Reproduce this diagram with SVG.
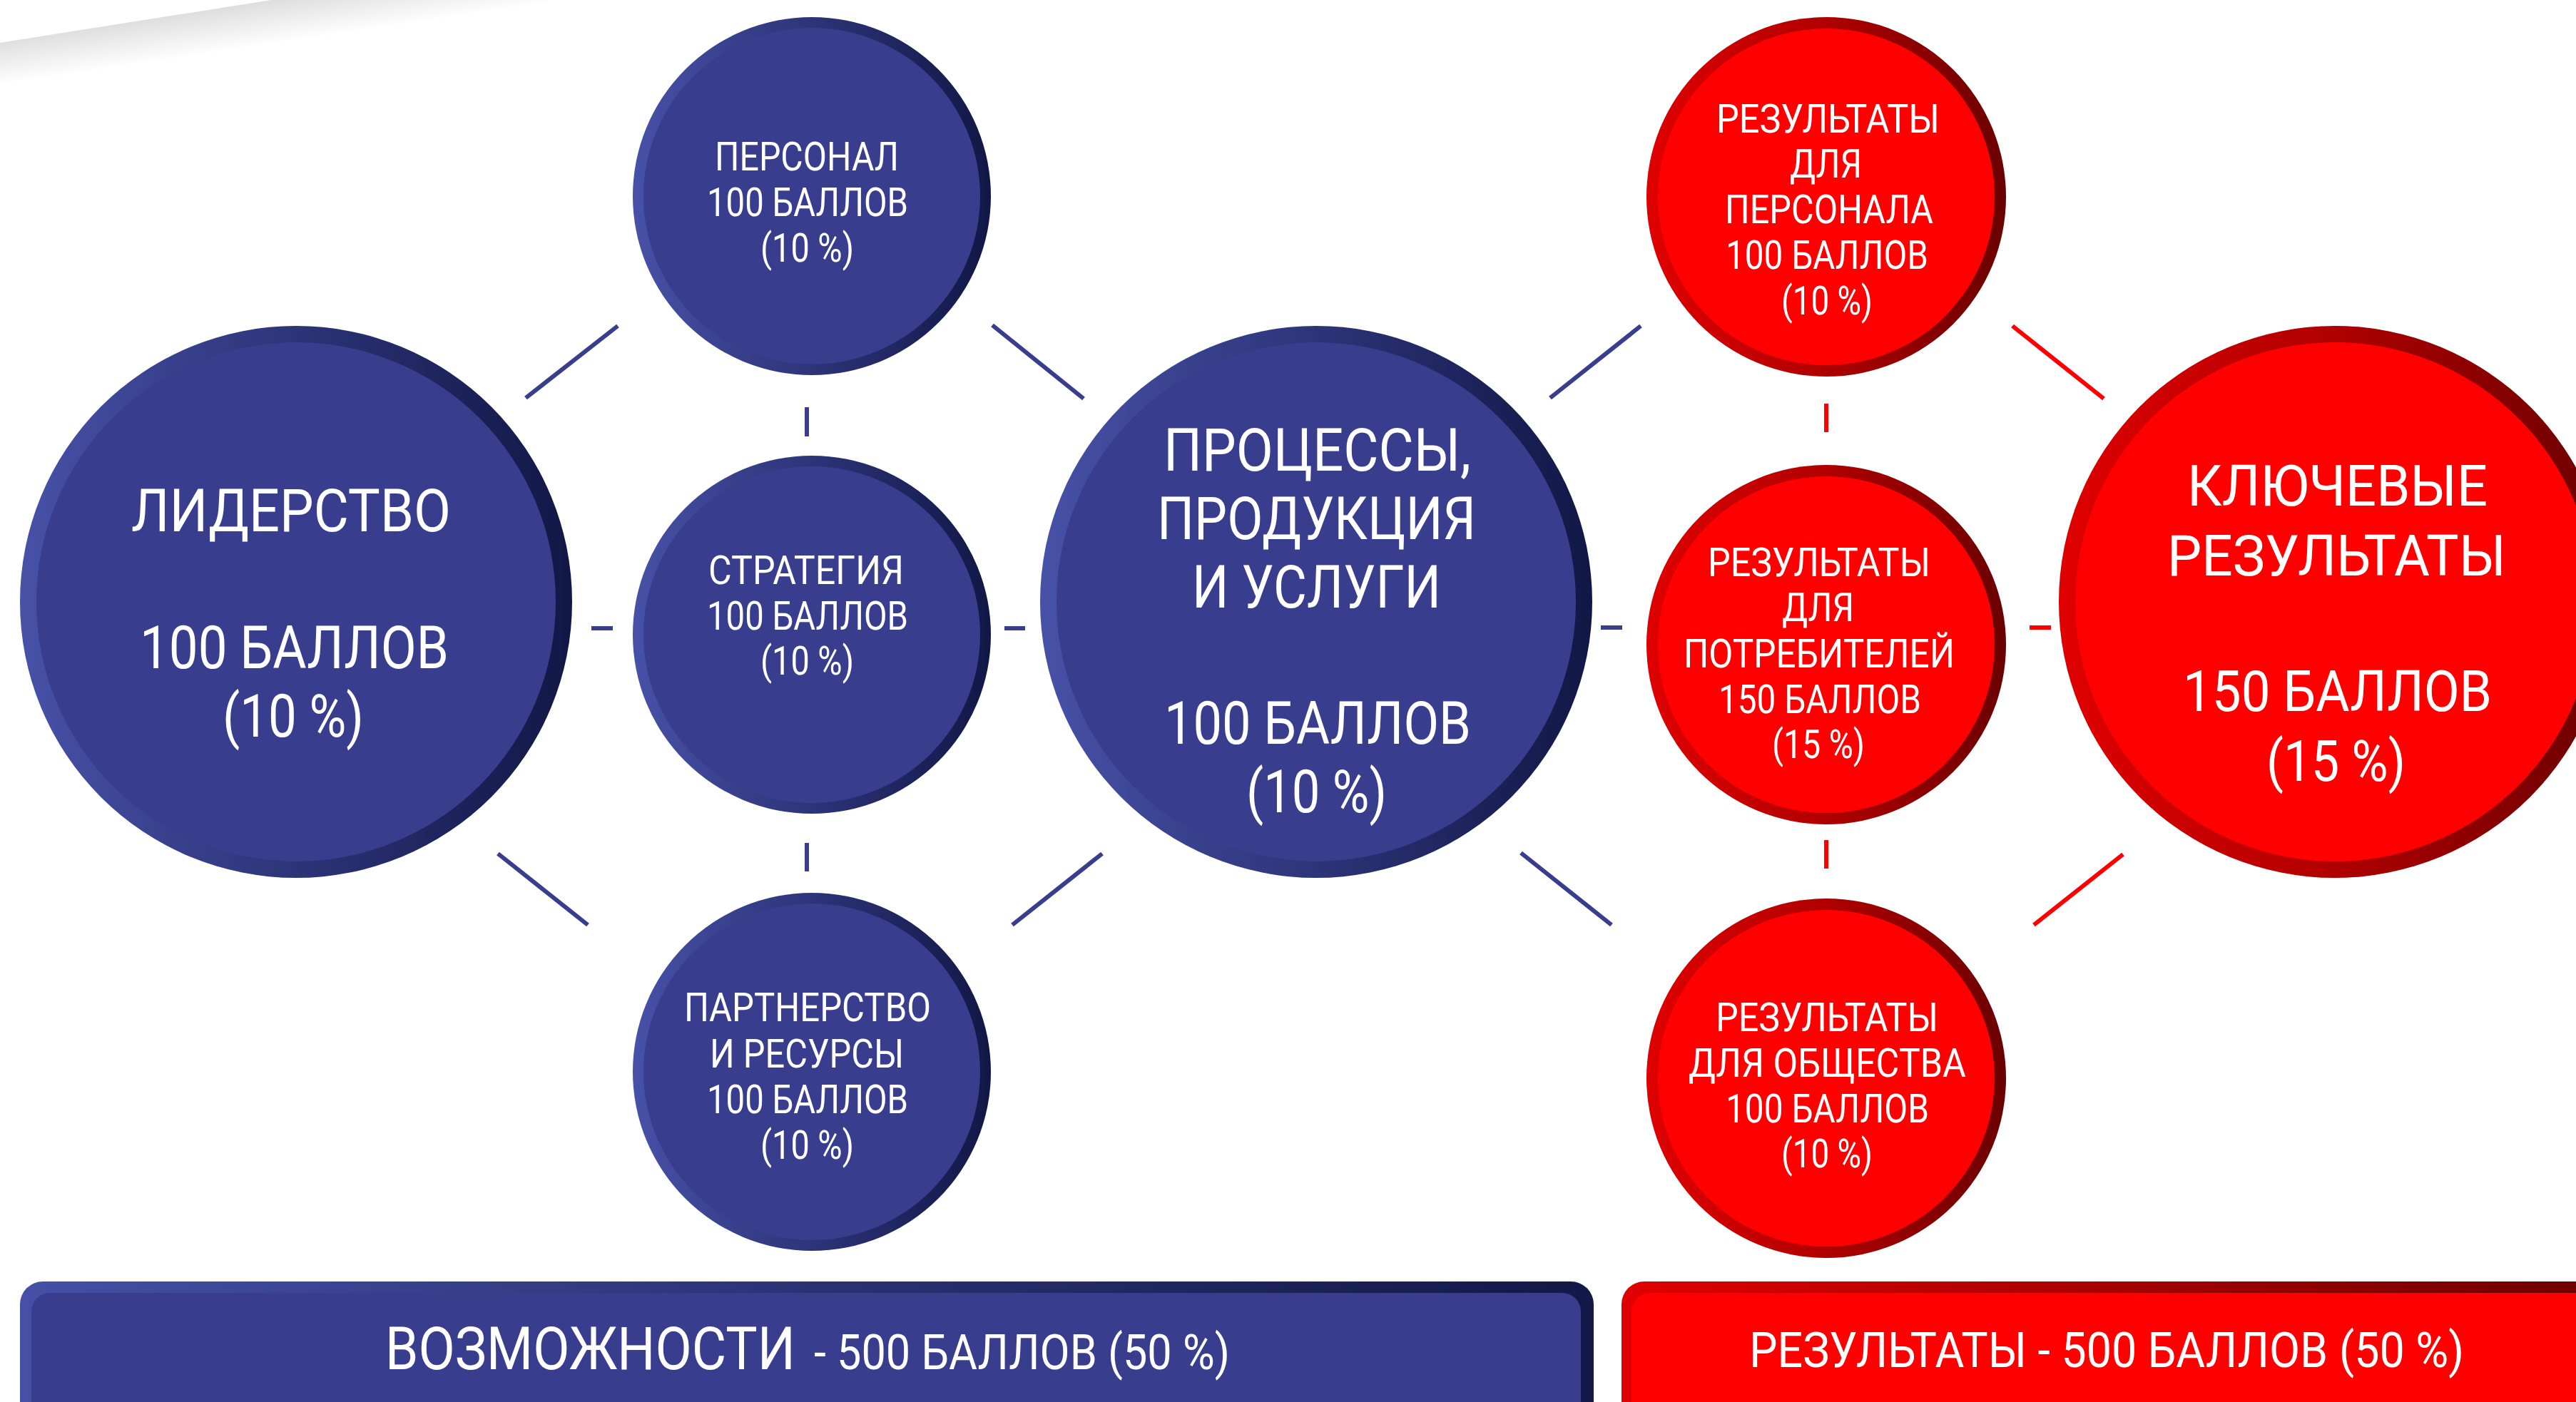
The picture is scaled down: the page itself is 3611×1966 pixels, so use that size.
<svg xmlns="http://www.w3.org/2000/svg" width="3611" height="1966" viewBox="0 0 3611 1966">
<style>
.bring{fill:url(#gBlue)}
.bfill{fill:#393d8d}
.rring{fill:url(#gRed)}
.rfill{fill:#ff0000}
.t{fill:#ffffff;font-family:Roboto,'Liberation Sans',sans-serif;font-weight:400}
.big{font-size:83px}
.key{font-size:80px}
.sm{font-size:56px}
.cb{stroke:#393d8d;stroke-width:6;fill:none}
.cr{stroke:#ff0000;stroke-width:6;fill:none}
</style>
<defs>
<linearGradient id="gBlue" x1="0" y1="0" x2="1" y2="0">
<stop offset="0" stop-color="#4751a7"/>
<stop offset="0.5" stop-color="#2d3478"/>
<stop offset="1" stop-color="#111745"/>
</linearGradient>
<linearGradient id="gRed" x1="0" y1="0" x2="1" y2="0">
<stop offset="0" stop-color="#e00000"/>
<stop offset="0.5" stop-color="#b00000"/>
<stop offset="1" stop-color="#6a0000"/>
</linearGradient>
<linearGradient id="gBlueBar" x1="0" y1="0" x2="1" y2="0">
<stop offset="0" stop-color="#4550a6"/>
<stop offset="0.5" stop-color="#2b3274"/>
<stop offset="1" stop-color="#121847"/>
</linearGradient>
<linearGradient id="gRedBar" gradientUnits="userSpaceOnUse" x1="2273" y1="0" x2="3611" y2="0">
<stop offset="0" stop-color="#e00000"/>
<stop offset="1" stop-color="#700000"/>
</linearGradient>
<linearGradient id="gShade" gradientUnits="userSpaceOnUse" x1="0" y1="58" x2="9" y2="118">
<stop offset="0" stop-color="#dedede"/>
<stop offset="1" stop-color="#ffffff"/>
</linearGradient>
</defs>
<rect x="0" y="0" width="3611" height="1966" fill="#ffffff"/>
<polygon points="0,60 380,0 1300,0 0,260" fill="url(#gShade)"/>

<g id="connectors">
<line class="cb" x1="737" y1="558" x2="866" y2="457"/>
<line class="cb" x1="1391" y1="456" x2="1519" y2="559"/>
<line class="cb" x1="1131" y1="571" x2="1131" y2="612"/>
<line class="cb" x1="829" y1="881" x2="859" y2="881"/>
<line class="cb" x1="1408" y1="881" x2="1437" y2="881"/>
<line class="cb" x1="1131" y1="1182" x2="1131" y2="1222"/>
<line class="cb" x1="698" y1="1197" x2="824" y2="1297"/>
<line class="cb" x1="1419" y1="1297" x2="1545" y2="1197"/>
<line class="cb" x1="2173" y1="558" x2="2300" y2="457"/>
<line class="cb" x1="2244" y1="880" x2="2274" y2="880"/>
<line class="cb" x1="2132" y1="1196" x2="2259" y2="1297"/>
<line class="cr" x1="2821" y1="457" x2="2949" y2="559"/>
<line class="cr" x1="2560" y1="566" x2="2560" y2="606"/>
<line class="cr" x1="2845" y1="880" x2="2875" y2="880"/>
<line class="cr" x1="2560" y1="1178" x2="2560" y2="1218"/>
<line class="cr" x1="2851" y1="1297" x2="2976" y2="1198"/>
</g>

<g id="leadership">
<circle class="bring" cx="415" cy="844" r="387"/>
<circle class="bfill" cx="415" cy="844" r="364"/>
<text class="t big" x="184" y="745" textLength="448" lengthAdjust="spacingAndGlyphs">ЛИДЕРСТВО</text>
<text class="t big" x="196" y="937" textLength="433" lengthAdjust="spacingAndGlyphs">100 БАЛЛОВ</text>
<text class="t big" x="312" y="1033" textLength="198" lengthAdjust="spacingAndGlyphs">(10 %)</text>
</g>

<g id="personnel">
<circle class="bring" cx="1138" cy="275" r="251"/>
<circle class="bfill" cx="1138" cy="275" r="236"/>
<text class="t sm" x="1002" y="239" textLength="258" lengthAdjust="spacingAndGlyphs">ПЕРСОНАЛ</text>
<text class="t sm" x="991" y="303" textLength="282" lengthAdjust="spacingAndGlyphs">100 БАЛЛОВ</text>
<text class="t sm" x="1066" y="367" textLength="131" lengthAdjust="spacingAndGlyphs">(10 %)</text>
</g>

<g id="strategy">
<circle class="bring" cx="1138" cy="890" r="251"/>
<circle class="bfill" cx="1138" cy="890" r="236"/>
<text class="t sm" x="993" y="819" textLength="274" lengthAdjust="spacingAndGlyphs">СТРАТЕГИЯ</text>
<text class="t sm" x="991" y="883" textLength="282" lengthAdjust="spacingAndGlyphs">100 БАЛЛОВ</text>
<text class="t sm" x="1066" y="946" textLength="131" lengthAdjust="spacingAndGlyphs">(10 %)</text>
</g>

<g id="partnership">
<circle class="bring" cx="1138" cy="1503" r="251"/>
<circle class="bfill" cx="1138" cy="1503" r="236"/>
<text class="t sm" x="959" y="1432" textLength="346" lengthAdjust="spacingAndGlyphs">ПАРТНЕРСТВО</text>
<text class="t sm" x="995" y="1497" textLength="272" lengthAdjust="spacingAndGlyphs">И РЕСУРСЫ</text>
<text class="t sm" x="991" y="1561" textLength="282" lengthAdjust="spacingAndGlyphs">100 БАЛЛОВ</text>
<text class="t sm" x="1066" y="1625" textLength="131" lengthAdjust="spacingAndGlyphs">(10 %)</text>
</g>

<g id="processes">
<circle class="bring" cx="1845" cy="844" r="387"/>
<circle class="bfill" cx="1845" cy="844" r="364"/>
<text class="t big" x="1631" y="660" textLength="431" lengthAdjust="spacingAndGlyphs">ПРОЦЕССЫ,</text>
<text class="t big" x="1622" y="756" textLength="447" lengthAdjust="spacingAndGlyphs">ПРОДУКЦИЯ</text>
<text class="t big" x="1671" y="852" textLength="349" lengthAdjust="spacingAndGlyphs">И УСЛУГИ</text>
<text class="t big" x="1632" y="1043" textLength="430" lengthAdjust="spacingAndGlyphs">100 БАЛЛОВ</text>
<text class="t big" x="1747" y="1139" textLength="197" lengthAdjust="spacingAndGlyphs">(10 %)</text>
</g>

<g id="results-personnel">
<circle class="rring" cx="2560" cy="276" r="252"/>
<circle class="rfill" cx="2560" cy="276" r="236"/>
<text class="t sm" x="2406" y="186" textLength="313" lengthAdjust="spacingAndGlyphs">РЕЗУЛЬТАТЫ</text>
<text class="t sm" x="2509" y="249" textLength="101" lengthAdjust="spacingAndGlyphs">ДЛЯ</text>
<text class="t sm" x="2418" y="313" textLength="292" lengthAdjust="spacingAndGlyphs">ПЕРСОНАЛА</text>
<text class="t sm" x="2419" y="377" textLength="284" lengthAdjust="spacingAndGlyphs">100 БАЛЛОВ</text>
<text class="t sm" x="2497" y="441" textLength="128" lengthAdjust="spacingAndGlyphs">(10 %)</text>
</g>

<g id="results-customers">
<circle class="rring" cx="2560" cy="904" r="252"/>
<circle class="rfill" cx="2560" cy="904" r="236"/>
<text class="t sm" x="2394" y="808" textLength="312" lengthAdjust="spacingAndGlyphs">РЕЗУЛЬТАТЫ</text>
<text class="t sm" x="2498" y="871" textLength="101" lengthAdjust="spacingAndGlyphs">ДЛЯ</text>
<text class="t sm" x="2360" y="936" textLength="380" lengthAdjust="spacingAndGlyphs">ПОТРЕБИТЕЛЕЙ</text>
<text class="t sm" x="2409" y="1000" textLength="284" lengthAdjust="spacingAndGlyphs">150 БАЛЛОВ</text>
<text class="t sm" x="2484" y="1063" textLength="130" lengthAdjust="spacingAndGlyphs">(15 %)</text>
</g>

<g id="results-society">
<circle class="rring" cx="2560" cy="1512" r="252"/>
<circle class="rfill" cx="2560" cy="1512" r="236"/>
<text class="t sm" x="2405" y="1446" textLength="312" lengthAdjust="spacingAndGlyphs">РЕЗУЛЬТАТЫ</text>
<text class="t sm" x="2367" y="1510" textLength="389" lengthAdjust="spacingAndGlyphs">ДЛЯ ОБЩЕСТВА</text>
<text class="t sm" x="2419" y="1574" textLength="285" lengthAdjust="spacingAndGlyphs">100 БАЛЛОВ</text>
<text class="t sm" x="2497" y="1637" textLength="128" lengthAdjust="spacingAndGlyphs">(10 %)</text>
</g>

<g id="key-results">
<circle class="rring" cx="3273" cy="844" r="387"/>
<circle class="rfill" cx="3273" cy="844" r="364"/>
<text class="t key" x="3066" y="709" textLength="421" lengthAdjust="spacingAndGlyphs">КЛЮЧЕВЫЕ</text>
<text class="t key" x="3038" y="807" textLength="475" lengthAdjust="spacingAndGlyphs">РЕЗУЛЬТАТЫ</text>
<text class="t key" x="3060" y="997" textLength="433" lengthAdjust="spacingAndGlyphs">150 БАЛЛОВ</text>
<text class="t key" x="3177" y="1095" textLength="195" lengthAdjust="spacingAndGlyphs">(15 %)</text>
</g>

<g id="enablers-bar">
<rect x="28" y="1797" width="2206" height="260" rx="32" fill="url(#gBlueBar)"/>
<rect x="44" y="1813" width="2172" height="260" rx="26" class="bfill"/>
<text class="t" style="font-size:84px" x="540" y="1920" textLength="575" lengthAdjust="spacingAndGlyphs">ВОЗМОЖНОСТИ</text>
<text class="t" style="font-size:69px" x="1141" y="1920" textLength="583" lengthAdjust="spacingAndGlyphs">- 500 БАЛЛОВ (50 %)</text>
</g>

<g id="results-bar">
<rect x="2273" y="1797" width="1400" height="260" rx="32" fill="url(#gRedBar)"/>
<rect x="2287" y="1813" width="1400" height="260" rx="26" class="rfill"/>
<text class="t" style="font-size:69px" x="2452" y="1917" textLength="1002" lengthAdjust="spacingAndGlyphs">РЕЗУЛЬТАТЫ - 500 БАЛЛОВ (50 %)</text>
</g>
</svg>
